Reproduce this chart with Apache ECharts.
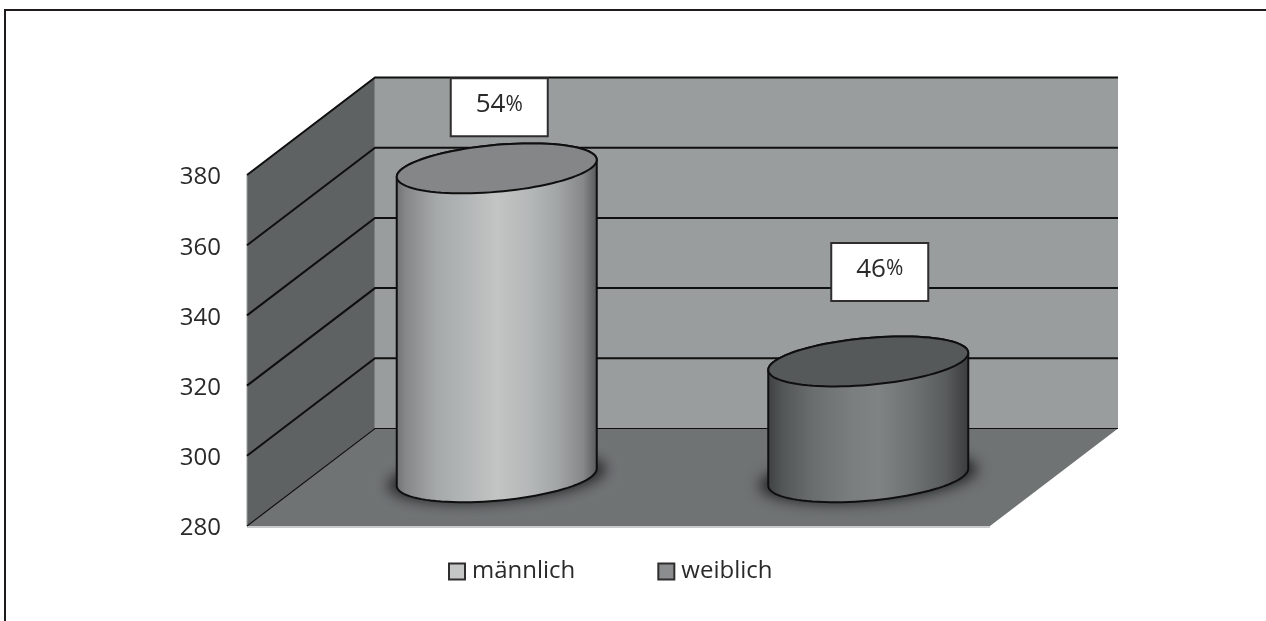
<!DOCTYPE html>
<html><head><meta charset="utf-8">
<style>html,body{margin:0;padding:0;background:#fff}#c{width:1266px;height:621px}</style>
<script src="https://cdn.jsdelivr.net/npm/echarts@6/dist/echarts.min.js"></script>
</head><body><div id="c"></div>
<script>
const categories = ["männlich", "weiblich"];
const values = [368, 313];
const shares = ["54%", "46%"];
const yTicks = [280, 300, 320, 340, 360, 380];

// 3D projection and styling
const DEPTH_X = 128, DEPTH_Y = -97.5;
const FONT = '"Open Sans", sans-serif';
const INK = '#0f0f0f';
const TEXT = '#2b2a2b';
const labelShift = [[2.5, -61], [11.5, -89.5]];
const topFill = ['#858687', '#55595a'];
const legendFill = ['#c5c7c7', '#8b8d8f'];
const bodyStops = [
  [[0,'#6f7172'],[.05,'#858788'],[.2,'#a6a9a9'],[.36,'#b4b7b7'],[.5,'#c3c4c4'],[.66,'#b5b8b8'],[.8,'#a3a6a6'],[.93,'#858788'],[1,'#555758']],
  [[0,'#3e4142'],[.08,'#545758'],[.22,'#6a6d6e'],[.42,'#7b7e7f'],[.55,'#808384'],[.72,'#6f7273'],[.88,'#5a5d5e'],[1,'#393b3c']]
];

function ellipsePts(cx, cy, a, b, s, from, to, n) {
  const pts = [];
  for (let i = 0; i <= n; i++) {
    const t = from + (to - from) * i / n;
    pts.push([cx + a * Math.cos(t), cy + b * Math.sin(t) + s * Math.cos(t)]);
  }
  return pts;
}

function renderWalls(params, api) {
  const dx = DEPTH_X, dy = DEPTH_Y;
  const base = api.coord([0, yTicks[0]])[1];
  const ceil = api.coord([0, yTicks[yTicks.length - 1]])[1];
  const cs = params.coordSys, L = cs.x, R = cs.x + cs.width;
  const children = [
    { type: 'polygon', shape: { points: [[L, base], [L + dx, base + dy], [L + dx, ceil + dy], [L, ceil]] },
      style: { fill: '#5e6262', stroke: '#9a9c9c', lineWidth: 1 } },
    { type: 'polygon', shape: { points: [[L + dx, base + dy], [R + dx, base + dy], [R + dx, ceil + dy], [L + dx, ceil + dy]] },
      style: { fill: '#9a9d9d' } },
    { type: 'polygon', shape: { points: [[L, base], [R, base], [R + dx, base + dy], [L + dx, base + dy]] },
      style: { fill: '#707374' } },
    { type: 'line', shape: { x1: L, y1: base + 1, x2: R, y2: base + 1 }, style: { stroke: '#b9baba', lineWidth: 1.5 } }
  ];
  yTicks.forEach(function (v, i) {
    const y = api.coord([0, v])[1];
    const w = i === 0 ? 1.2 : 2;
    children.push({ type: 'polyline', shape: { points: [[L, y], [L + dx, y + dy], [R + dx, y + dy]] },
      style: { fill: 'none', stroke: INK, lineWidth: w } });
  });
  return { type: 'group', children };
}

function renderCylinder(idx) {
  return function (params, api) {
    const c = api.coord([idx, api.value(1)]);
    const b0 = api.coord([idx, yTicks[0]]);
    const cx = c[0] + DEPTH_X / 2, topY = c[1] + DEPTH_Y / 2, botY = b0[1] + DEPTH_Y / 2;
    const band = api.size([1, 0])[0];
    const a = band * 100 / 371.5, b = 23.5, s = -8.5;
    const front = ellipsePts(cx, botY, a, b, s, Math.PI, 0, 48);
    const topBack = ellipsePts(cx, topY, a, b, s, 0, -Math.PI, 48);
    const grad = { type: 'linear', x: 0, y: 0, x2: 1, y2: 0,
      colorStops: bodyStops[idx].map(p => ({ offset: p[0], color: p[1] })) };
    const shift = labelShift[idx];
    const bx = cx + shift[0], by = topY + shift[1];
    const off = 3000;
    return { type: 'group', children: [
      { type: 'polygon', shape: { points: ellipsePts(cx - off, botY, a + 9, b + 1, s, 0, 2 * Math.PI, 72) },
        style: { fill: '#000', shadowBlur: 14, shadowOffsetX: off, shadowColor: 'rgba(32,34,35,0.95)' } },
      { type: 'polygon', shape: { points: front.concat(topBack) },
        style: { fill: grad, stroke: INK, lineWidth: 2 } },
      { type: 'polygon', shape: { points: ellipsePts(cx, topY, a, b, s, 0, 2 * Math.PI, 96) },
        style: { fill: topFill[idx], stroke: INK, lineWidth: 2 } },
      { type: 'rect', shape: { x: bx - 48.5, y: by - 29, width: 97, height: 58 },
        style: { fill: '#fff', stroke: '#2f2d2e', lineWidth: 2 } },
      { type: 'text', x: bx, y: by - 2.5,
        style: { text: '{d|' + shares[idx].replace('%', '') + '}{p|%}', align: 'center', verticalAlign: 'middle',
          rich: { d: { font: '26px ' + FONT, fill: TEXT }, p: { font: '21px ' + FONT, fill: TEXT } } } }
    ] };
  };
}

const chart = echarts.init(document.getElementById('c'), null, { renderer: 'canvas' });
chart.setOption({
  animation: false,
  backgroundColor: '#fff',
  grid: { left: 247, right: 276, top: 175, bottom: 95 },
  xAxis: { type: 'category', data: categories, axisLine: { show: false }, axisTick: { show: false }, axisLabel: { show: false } },
  yAxis: { type: 'value', min: 280, max: 380, interval: 20, splitLine: { show: false },
    axisLine: { show: false }, axisTick: { show: false },
    axisLabel: { margin: 26, color: TEXT, fontFamily: FONT, fontSize: 24, verticalAlign: 'top', lineHeight: 5 } },
  legend: {
    left: 443, top: 554.5, itemWidth: 16, itemHeight: 16, itemGap: 82, selectedMode: false,
    icon: 'rect',
    textStyle: { fontFamily: FONT, fontSize: 24, color: TEXT, padding: [0, 0, 0, 2] },
    data: categories.map((n, i) => ({ name: n, icon: 'rect',
      itemStyle: { color: legendFill[i], borderColor: '#2f2d2e', borderWidth: 2 } }))
  },
  graphic: [{ type: 'polyline', silent: true,
    shape: { points: [[5, 621], [5, 10], [1266, 10]] },
    style: { fill: 'none', stroke: '#1f1b1c', lineWidth: 2 } }],
  series: [
    { type: 'custom', name: 'walls', coordinateSystem: 'cartesian2d', data: [[0, yTicks[0]]], renderItem: renderWalls, z: 1, silent: true },
    { type: 'custom', name: categories[1], coordinateSystem: 'cartesian2d', data: [[1, values[1]]], renderItem: renderCylinder(1), z: 2, silent: true },
    { type: 'custom', name: categories[0], coordinateSystem: 'cartesian2d', data: [[0, values[0]]], renderItem: renderCylinder(0), z: 3, silent: true }
  ]
});
</script></body></html>
